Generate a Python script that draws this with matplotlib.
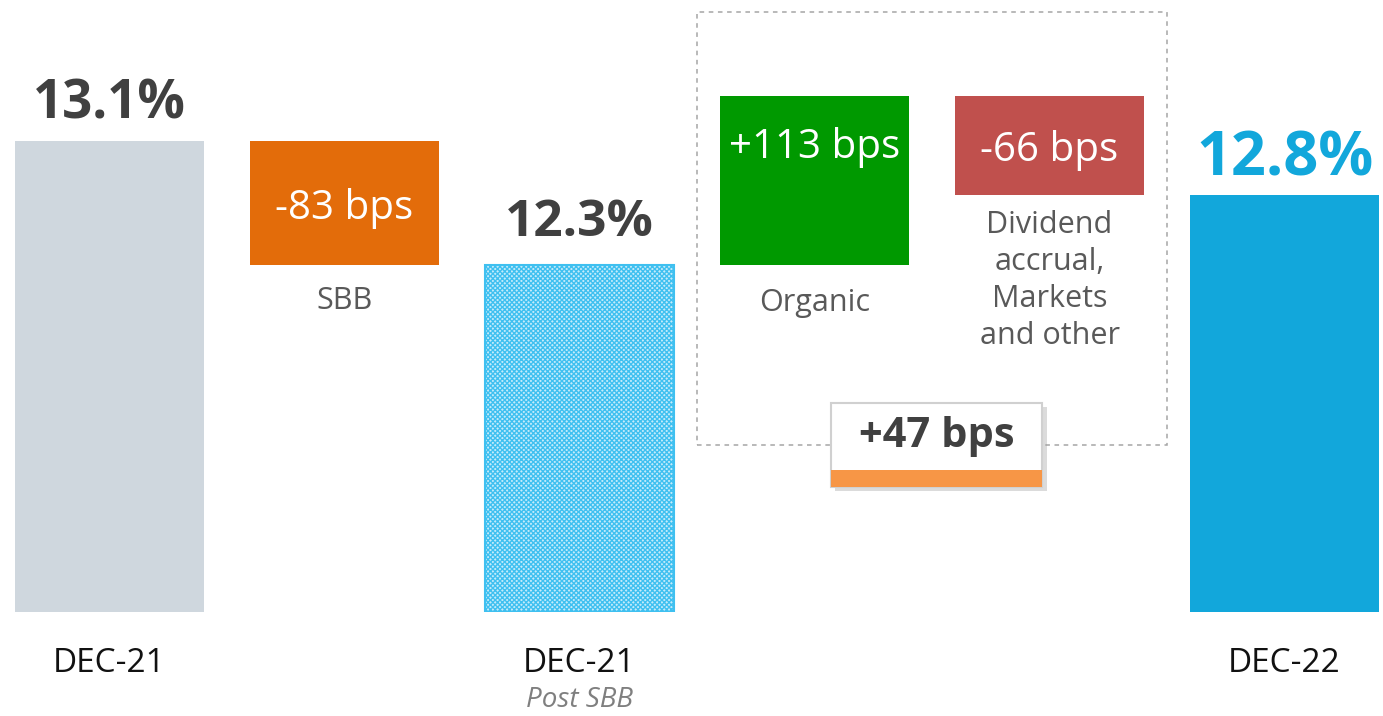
import matplotlib
matplotlib.use("Agg")
import matplotlib.pyplot as plt
import matplotlib.patheffects as pe
from matplotlib.patches import Rectangle

# CET1 ratio walk, Dec-21 -> Dec-22
start_ratio = 13.14          # DEC-21, %
sbb_bps = -83
organic_bps = 113
dividend_bps = -66
net_bps = 47

bar_labels = ["DEC-21", "DEC-21", "DEC-22"]
step_labels = ["SBB", "Organic", "Dividend\naccrual,\nMarkets\nand other"]

post_sbb = start_ratio + sbb_bps / 100
after_organic = post_sbb + organic_bps / 100
end_ratio = after_organic + dividend_bps / 100

plt.rcParams['font.family'] = ['Open Sans', 'DejaVu Sans']
plt.rcParams['hatch.linewidth'] = 1.0

fig = plt.figure(figsize=(13.83, 7.16), dpi=100)
ax = fig.add_axes([0, 1 - 612 / 716, 1, 612 / 716])
ymin, ymax = 10.0, 14.08
ax.set_ylim(ymin, ymax)
ax.set_xlim(-0.466, 5.419)
w = 0.804

# totals
ax.bar(0, start_ratio - ymin, bottom=ymin, width=w, color='#cfd7de')
ax.bar(2, post_sbb - ymin, bottom=ymin, width=w, facecolor='#c4ebfb',
       edgecolor='#3fc0f0', hatch='xxxxxxx', linewidth=1.5)
ax.bar(5, end_ratio - ymin, bottom=ymin, width=w, color='#12a7db')

# steps
steps = [(1, sbb_bps, start_ratio, '#e36c0a', -15),
         (3, organic_bps, post_sbb, '#009900', -16),
         (4, dividend_bps, after_organic, '#c0504d', -11)]
for (x, bps, base, col, lab_off), lab in zip(steps, step_labels):
    h = bps / 100
    ax.bar(x, h, bottom=base, width=w, color=col)
    top = max(base, base + h)
    low = min(base, base + h)
    txt = "{:+d} bps".format(bps) if bps > 0 else "{:d} bps".format(bps)
    if bps > 0:
        ax.annotate(txt, (x, top), xytext=(0, -45), textcoords='offset points',
                    ha='center', va='baseline', fontsize=29, color='white')
    else:
        ax.text(x, (top + low) / 2, txt, ha='center', va='center_baseline',
                fontsize=29, color='white')
    ax.annotate(lab, (x, low), xytext=(0, lab_off), textcoords='offset points',
                ha='center', va='top', fontsize=22, color='#595959',
                linespacing=1.3)

# value labels on totals
vals = [(0, start_ratio, '#404040', 38, 16),
        (2, post_sbb, '#404040', 37, 21),
        (5, end_ratio, '#12a7db', 44, 14)]
for x, v, col, fs, off in vals:
    ax.annotate("{:.1f}%".format(v), (x, v), xytext=(0, off),
                textcoords='offset points', ha='center', va='baseline',
                fontsize=fs, weight='bold', color=col)

# dashed frame around the organic / dividend steps
ax.add_patch(Rectangle((2.5, 11.113), 2.0, 14.0 - 11.113, fill=False,
                       edgecolor='#a6a6a6', linestyle=(0, (3, 3)), lw=1.1))

# net change box
bx, bw = 3.52 - 0.45, 0.9
box = Rectangle((bx, 10.833), bw, 11.393 - 10.833, facecolor='white',
                edgecolor='#d0d0d0', lw=1.5, zorder=5)
box.set_path_effects([pe.SimplePatchShadow(offset=(3, -3), shadow_rgbFace='#9a9a9a',
                                           alpha=0.35), pe.Normal()])
ax.add_patch(box)
ax.add_patch(Rectangle((bx, 10.833), bw, 10.947 - 10.833, facecolor='#f79646',
                       edgecolor='none', zorder=6))
ax.text(3.52, 11.17, "{:+d} bps".format(net_bps), ha='center', va='center',
        fontsize=30, weight='bold', color='#404040', zorder=7)

# category labels
ax.set_xticks([0, 2, 5])
ax.set_xticklabels(bar_labels, fontsize=24, color='#111111')
ax.tick_params(axis='x', length=0, pad=25)
ax.set_yticks([])
ax.annotate("Post SBB", (2, 0), xycoords=ax.get_xaxis_transform(),
            xytext=(0, -53), textcoords='offset points', ha='center', va='top',
            fontsize=20, style='italic', color='#7f7f7f')
for s in ax.spines.values():
    s.set_visible(False)

plt.savefig("out.png", dpi=100)
